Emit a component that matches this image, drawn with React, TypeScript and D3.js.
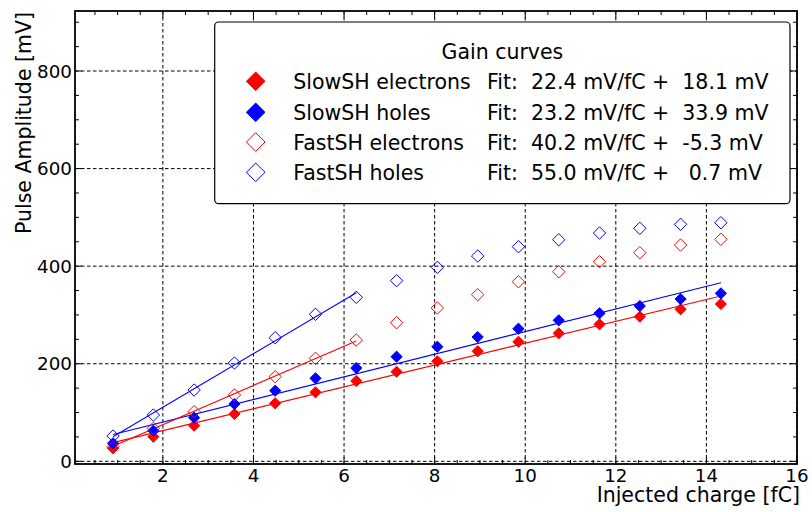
import React from 'react';
import * as d3 from 'd3';

// Injected charge for each measurement step [fC]
const charge = [0.9, 1.79, 2.69, 3.58, 4.48, 5.37, 6.27, 7.16, 8.06, 8.95, 9.85, 10.74, 11.64, 12.53, 13.43, 14.32];

// Measured pulse amplitudes [mV]
const slowElectrons = [26.6, 50.4, 73.0, 97.0, 118.9, 141.4, 164.6, 183.6, 205.0, 225.5, 245.0, 262.4, 280.8, 296.4, 311.6, 322.4];
const slowHoles = [36.9, 62.7, 89.4, 117.4, 144.7, 170.1, 191.2, 214.4, 234.9, 254.8, 271.8, 289.0, 303.4, 318.3, 332.7, 344.3];
const fastElectrons = [29.9, 67.6, 101.7, 135.9, 173.4, 211.1, 248.6, 284.1, 314.2, 341.5, 368.1, 388.6, 409.1, 427.6, 443.3, 455.0];
const fastHoles = [51.9, 94.9, 146.1, 201.5, 253.3, 301.3, 336.1, 370.2, 397.6, 420.8, 439.9, 454.2, 468.0, 477.6, 485.8, 489.0];

const seriesNames = ['SlowSH electrons', 'SlowSH holes', 'FastSH electrons', 'FastSH holes'];
const seriesColors = ['#ff0000', '#0000ff', '#ff0000', '#0000ff'];
const seriesFilled = [true, true, false, false];
// Linear fit parameters: slope [mV/fC] and offset [mV]
const fitSlope = [22.4, 23.2, 40.2, 55.0];
const fitOffset = [18.1, 33.9, -5.3, 0.7];
// Index of the last point included in each fit
const fitLastIndex = [15, 15, 6, 6];

const xTicks = [2, 4, 6, 8, 10, 12, 14, 16];
const yTicks = [0, 200, 400, 600, 800];

const seriesValues = [slowElectrons, slowHoles, fastElectrons, fastHoles];

const W = 812;
const H = 512;
const left = 75;
const right = 797;
const top = 11;
const bottom = 464;
const FONT = '"DejaVu Sans", "Liberation Sans", sans-serif';

const x = d3.scaleLinear().domain([0.06, 16]).range([left, right]);
const y = d3.scaleLinear().domain([-5.5, 923]).range([bottom, top]);

const diamond = (cx: number, cy: number, r: number) =>
  `M${cx},${cy - r}L${cx + r},${cy}L${cx},${cy + r}L${cx - r},${cy}Z`;

const fmt = (v: number) => v.toFixed(1).padStart(5, ' ');

export default function App() {
  const xMinor = d3.range(0.5, 16, 0.5).filter((v) => v % 2 !== 0 && v > 0.06);
  const yMinor = d3.range(50, 923, 50).filter((v) => v % 200 !== 0);
  const line = d3
    .line<number>()
    .x((d) => x(d))
    .y((d) => d);

  const legendRows = [81.3, 112.3, 142, 172.3];
  const legendBase = [89, 119.5, 149.7, 180.3];

  return (
    <svg width={W} height={H} style={{ position: 'absolute', left: 0, top: 0, background: '#fff' }}>
      <rect x={0} y={0} width={W} height={H} fill="#fff" />
      {/* grid */}
      <g stroke="#000" strokeWidth={1} strokeDasharray="3.5,2.5" fill="none">
        {xTicks.map((t) => (
          <line key={'gx' + t} x1={x(t)} x2={x(t)} y1={top} y2={bottom} />
        ))}
        {yTicks.map((t) => (
          <line key={'gy' + t} x1={left} x2={right} y1={y(t)} y2={y(t)} />
        ))}
      </g>

      {/* fit lines */}
      {seriesNames.map((name, s) => {
        const xs = [charge[0], charge[fitLastIndex[s]]];
        const pts: [number, number][] = xs.map((c) => [x(c), y(fitSlope[s] * c + fitOffset[s])]);
        return (
          <path
            key={'fit' + name}
            d={d3.line()(pts) || ''}
            stroke={seriesColors[s]}
            strokeWidth={1.1}
            fill="none"
          />
        );
      })}

      {/* data markers */}
      {seriesNames.map((name, s) => (
        <g key={'pts' + name}>
          {seriesValues[s].map((v, i) =>
            seriesFilled[s] ? (
              <path
                key={i}
                d={diamond(x(charge[i]), y(v), 5.6)}
                fill={seriesColors[s]}
                stroke={seriesColors[s]}
                strokeWidth={1}
              />
            ) : (
              <path
                key={i}
                d={diamond(x(charge[i]), y(v), 6.2)}
                fill="none"
                stroke={seriesColors[s]}
                strokeWidth={1}
              />
            )
          )}
        </g>
      ))}

      {/* ticks (inward, all four sides) */}
      <g stroke="#000" strokeWidth={1}>
        {xTicks.map((t) => (
          <g key={'tx' + t}>
            <line x1={x(t)} x2={x(t)} y1={bottom} y2={bottom - 7} />
            <line x1={x(t)} x2={x(t)} y1={top} y2={top + 7} />
          </g>
        ))}
        {xMinor.map((t) => (
          <g key={'mx' + t}>
            <line x1={x(t)} x2={x(t)} y1={bottom} y2={bottom - 4} />
            <line x1={x(t)} x2={x(t)} y1={top} y2={top + 4} />
          </g>
        ))}
        {yTicks.map((t) => (
          <g key={'ty' + t}>
            <line x1={left} x2={left + 7} y1={y(t)} y2={y(t)} />
            <line x1={right} x2={right - 7} y1={y(t)} y2={y(t)} />
          </g>
        ))}
        {yMinor.map((t) => (
          <g key={'my' + t}>
            <line x1={left} x2={left + 4} y1={y(t)} y2={y(t)} />
            <line x1={right} x2={right - 4} y1={y(t)} y2={y(t)} />
          </g>
        ))}
      </g>

      {/* frame */}
      <rect x={left} y={top} width={right - left} height={bottom - top} fill="none" stroke="#000" strokeWidth={1.8} />

      {/* tick labels */}
      <g fontFamily={FONT} fontSize={18.3} fill="#000">
        {xTicks.map((t) => (
          <text key={'lx' + t} x={x(t)} y={481.5} textAnchor="middle">
            {t}
          </text>
        ))}
        {yTicks.map((t) => (
          <text key={'ly' + t} x={72} y={y(t)} textAnchor="end" dominantBaseline="central">
            {t}
          </text>
        ))}
      </g>

      {/* axis titles */}
      <text x={800} y={502} textAnchor="end" fontFamily={FONT} fontSize={20.5}>
        Injected charge [fC]
      </text>
      <text
        transform={`translate(31,${top + 1}) rotate(-90)`}
        textAnchor="end"
        fontFamily={FONT}
        fontSize={20.5}
      >
        Pulse Amplitude [mV]
      </text>

      {/* legend */}
      <g fontFamily={FONT} fontSize={20.5}>
        <rect x={214.7} y={22} width={575.3} height={181.7} rx={4} fill="#fff" stroke="#000" strokeWidth={1.2} />
        <text x={502.4} y={58.5} textAnchor="middle">
          Gain curves
        </text>
        {seriesNames.map((name, s) => (
          <g key={'lg' + name}>
            {seriesFilled[s] ? (
              <path d={diamond(255.7, legendRows[s], 9.3)} fill={seriesColors[s]} stroke={seriesColors[s]} strokeWidth={1} />
            ) : (
              <path d={diamond(255.7, legendRows[s], 9.3)} fill="none" stroke={seriesColors[s]} strokeWidth={1} />
            )}
            <text x={293.3} y={legendBase[s]}>
              {name}
            </text>
            <text x={487} y={legendBase[s]} style={{ whiteSpace: 'pre' }}>
              {`Fit: ${fmt(fitSlope[s])} mV/fC + ${fmt(fitOffset[s])} mV`}
            </text>
          </g>
        ))}
      </g>
    </svg>
  );
}
